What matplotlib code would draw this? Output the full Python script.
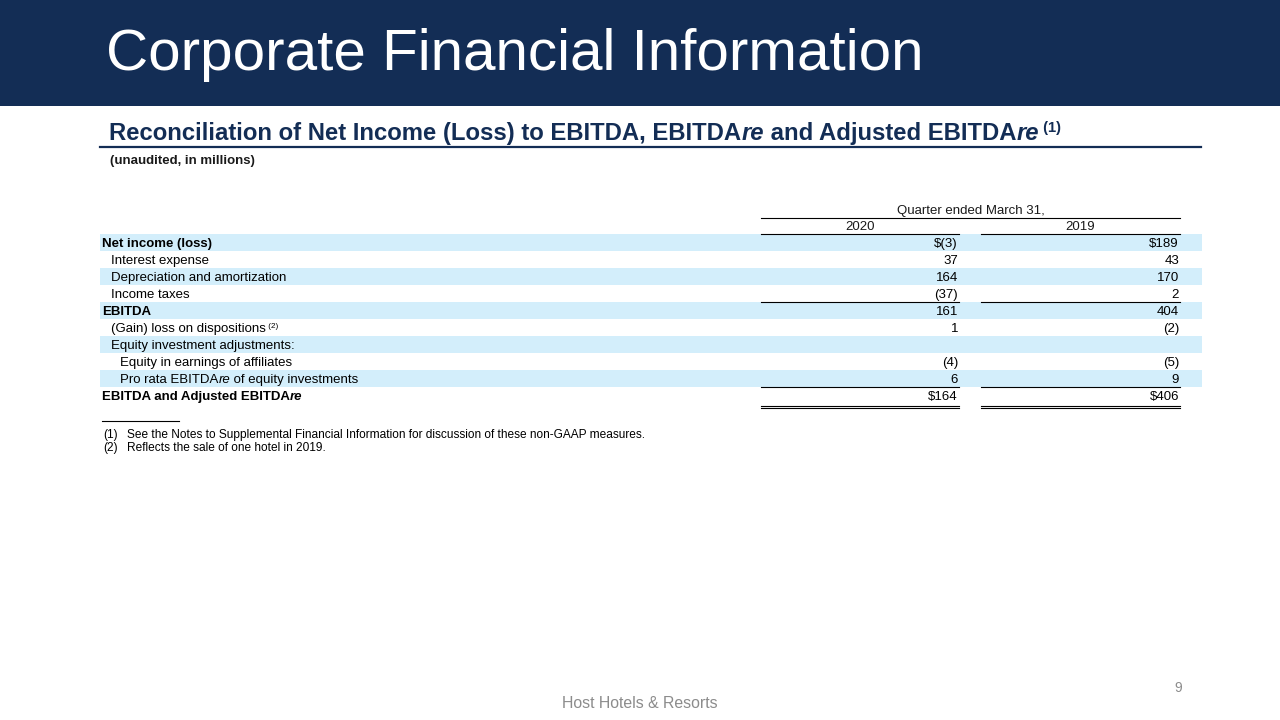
import matplotlib
matplotlib.use("Agg")
import matplotlib.pyplot as plt
from matplotlib.patches import Rectangle

NAVY = "#132d55"
ROWBLUE = "#d3eefb"
GREY = "#8c8c8c"
FONT = "Liberation Sans"

title = "Corporate Financial Information"
subtitle_runs = [("Reconciliation of Net Income (Loss) to EBITDA, EBITDA", "normal", False),
                 ("re", "italic", False),
                 (" and Adjusted EBITDA", "normal", False),
                 ("re", "italic", False),
                 (" (1)", "normal", True)]
units = "(unaudited, in millions)"
period = "Quarter ended March 31,"
years = ["2020", "2019"]

# label, indent level, bold, superscript note
labels = [("Net income (loss)", 0, True, ""),
          ("Interest expense", 1, False, ""),
          ("Depreciation and amortization", 1, False, ""),
          ("Income taxes", 1, False, ""),
          ("EBITDA", 0, True, ""),
          ("(Gain) loss on dispositions", 1, False, "(2)"),
          ("Equity investment adjustments:", 1, False, ""),
          ("Equity in earnings of affiliates", 2, False, ""),
          ("Pro rata EBITDAre of equity investments", 2, False, ""),
          ("EBITDA and Adjusted EBITDAre", 0, True, "")]
vals_2020 = ["$(3)", "37", "164", "(37)", "161", "1", "", "(4)", "6", "$164"]
vals_2019 = ["$189", "43", "170", "2", "404", "(2)", "", "(5)", "9", "$406"]
subtotal_rows = [4, 9]      # single rule above these rows
total_row = 9               # double rule below

notes = [("(1)", "See the Notes to Supplemental Financial Information for discussion of these non-GAAP measures."),
         ("(2)", "Reflects the sale of one hotel in 2019.")]
footer = "Host Hotels & Resorts"
page = "9"

fig = plt.figure(figsize=(12.8, 7.2), dpi=100)
ax = fig.add_axes([0, 0, 1, 1])
ax.set_xlim(0, 1280)
ax.set_ylim(720, 0)
ax.axis("off")
fig.canvas.draw()
renderer = fig.canvas.get_renderer()


def runs(x, y, parts, size, weight, color):
    # draw text runs one after another, advancing by measured width
    for txt, style, sup in parts:
        s = size * 0.62 if sup else size
        yy = y - size * 0.45 if sup else y
        t = ax.text(x, yy, txt, fontsize=s, fontweight=weight, fontstyle=style,
                    color=color, family=FONT, va="baseline", ha="left")
        x += t.get_window_extent(renderer).width
    return x


# header band
ax.add_patch(Rectangle((0, 0), 1280, 106, color=NAVY, lw=0))
ax.text(106, 70, title, fontsize=42, color="white", family=FONT, va="baseline")

runs(109, 140, subtitle_runs, 17.2, "bold", NAVY)
ax.plot([100, 1201], [146.5, 146.5], color=NAVY, lw=1.6)
ax.text(110, 164, units, fontsize=9.5, fontweight="bold", color="#1a1a1a",
        family=FONT, va="baseline")

# column geometry
c1 = (761, 959)
c2 = (981, 1180)
row_top = 234
row_h = 17
fs = 9.5

ax.text((c1[0] + c2[1]) / 2, 214, period, fontsize=fs, family=FONT,
        ha="center", va="baseline", color="#1a1a1a")
ax.plot([c1[0], c2[1]], [217.5, 217.5], color="black", lw=0.8)
for yr, (a, b) in zip(years, [c1, c2]):
    ax.text((a + b) / 2, 230.5, yr, fontsize=fs, family=FONT, ha="center",
            va="baseline", color="#1a1a1a")
    ax.plot([a, b], [234, 234], color="black", lw=0.8)

indent = [102, 111, 120]
for i, (lab, lvl, bold, sup) in enumerate(labels):
    top = row_top + i * row_h
    if i % 2 == 0:
        ax.add_patch(Rectangle((100, top), 1102, row_h, color=ROWBLUE, lw=0))
    base = top + 13
    w = "bold" if bold else "normal"
    if "EBITDAre" in lab:
        head, tail = lab.split("EBITDAre")
        parts = [(head + "EBITDA", "normal", False), ("re", "italic", False),
                 (tail, "normal", False)]
    else:
        parts = [(lab, "normal", False)]
    if sup:
        parts.append((" " + sup, "normal", True))
    runs(indent[lvl], base, parts, fs, w, "black")
    for v, (a, b) in zip([vals_2020[i], vals_2019[i]], [c1, c2]):
        if v:
            ax.text(b - 1, base, v, fontsize=fs, family=FONT, ha="right",
                    va="baseline", color="black")
    if i in subtotal_rows:
        for a, b in [c1, c2]:
            ax.plot([a, b], [top, top], color="black", lw=0.8)
    if i == total_row:
        for a, b in [c1, c2]:
            ax.plot([a, b], [top + row_h + 1.5, top + row_h + 1.5], color="black", lw=0.8)
            ax.plot([a, b], [top + row_h + 4, top + row_h + 4], color="black", lw=0.8)

# footnotes
ax.plot([102, 179], [421, 421], color="black", lw=0.8)
for k, (num, txt) in enumerate(notes):
    y = 438 + k * 13
    ax.text(103, y, num, fontsize=8.6, family=FONT, va="baseline", color="black")
    ax.text(127, y, txt, fontsize=8.6, family=FONT, va="baseline", color="black")

ax.text(640, 708, footer, fontsize=11.4, family=FONT, color=GREY, ha="center",
        va="baseline")
ax.text(1182, 692, page, fontsize=10, family=FONT, color=GREY, ha="right",
        va="baseline")

fig.savefig("out.png", dpi=100)
